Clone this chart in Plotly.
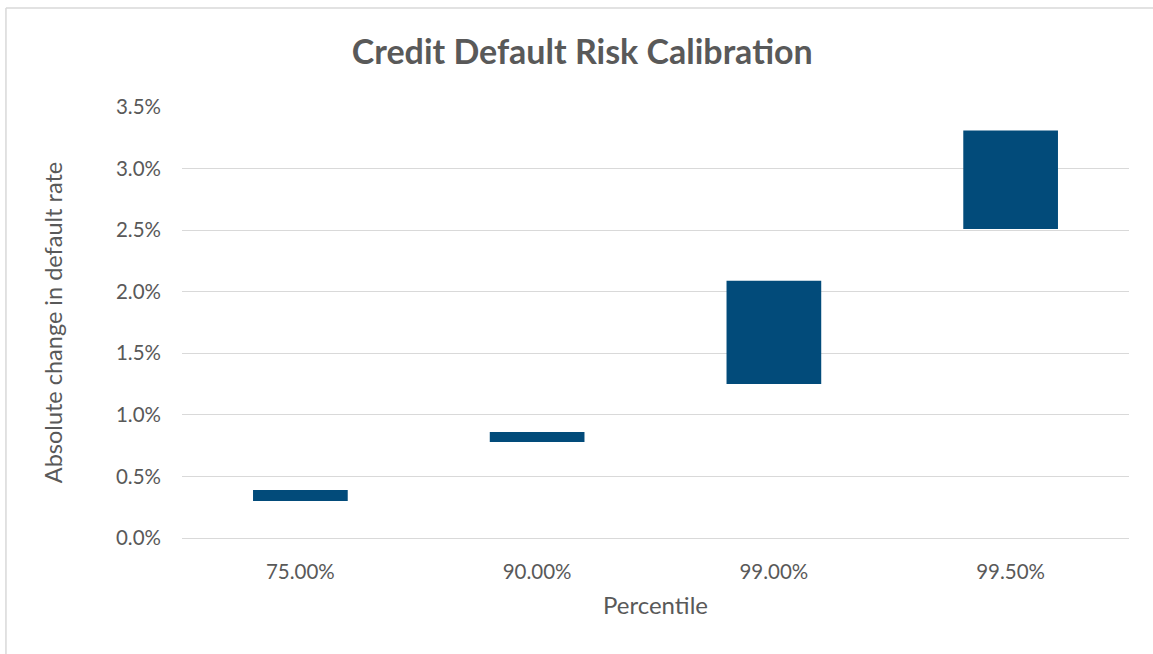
import plotly.graph_objects as go

categories = ["75.00%", "90.00%", "99.00%", "99.50%"]
low_values = [0.30, 0.78, 1.25, 2.51]   # % bottom of range
high_values = [0.39, 0.86, 2.09, 3.31]  # % top of range
y_ticks = [0.0, 0.5, 1.0, 1.5, 2.0, 2.5, 3.0, 3.5]
y_tick_labels = ["0.0%", "0.5%", "1.0%", "1.5%", "2.0%", "2.5%", "3.0%", "3.5%"]

FONT = "Lato"
GREY = "#595959"

fig = go.Figure()
fig.add_trace(go.Bar(
    x=categories,
    y=[h - l for h, l in zip(high_values, low_values)],
    base=low_values,
    marker=dict(color="#024b7a", line=dict(width=0)),
    width=0.4,
    hoverinfo="skip",
))

fig.update_layout(
    width=1153, height=654,
    margin=dict(l=182, r=24, t=107, b=116),
    paper_bgcolor="white", plot_bgcolor="white",
    showlegend=False,
    title=dict(text="<b>Credit Default Risk Calibration</b>", x=0.505, xanchor="center",
               y=0.92, yanchor="middle",
               font=dict(family=FONT, size=34, color=GREY)),
    xaxis=dict(
        type="category",
        showgrid=False, showline=False, ticks="",
        ticklabelstandoff=19,
        tickfont=dict(family=FONT, size=20.5, color=GREY),
        title=dict(text="Percentile", font=dict(family=FONT, size=24, color=GREY), standoff=15),
    ),
    yaxis=dict(
        range=[0, 3.5],
        tickvals=y_ticks, ticktext=y_tick_labels,
        showgrid=True, gridcolor="#d9d9d9", gridwidth=1,
        zeroline=True, zerolinecolor="#d9d9d9", zerolinewidth=1,
        showline=False, ticks="",
        ticklabelstandoff=20,
        tickfont=dict(family=FONT, size=20.5, color=GREY),
        title=dict(text="Absolute change in default rate", font=dict(family=FONT, size=23.5, color=GREY), standoff=46),
    ),
    shapes=[
        dict(type="line", xref="paper", yref="paper", x0=-0.1859, x1=-0.1859, y0=-0.3, y1=1.2297,
             line=dict(color="#d9d9d9", width=1.5)),
        dict(type="line", xref="paper", yref="paper", x0=-0.1859, x1=1.1, y0=1.2297, y1=1.2297,
             line=dict(color="#d9d9d9", width=1.5)),
    ],
)

fig.write_html("out.html")
